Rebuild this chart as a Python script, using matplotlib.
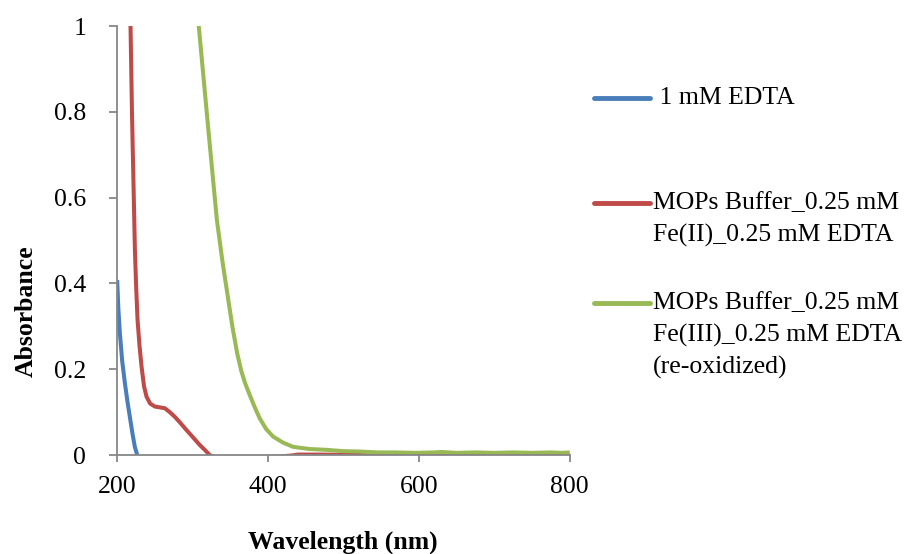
"""
Espectros UV-Vis: EDTA libre y complejos Fe-EDTA en tampón MOPS.
"""
import matplotlib
matplotlib.use("Agg")
import matplotlib.pyplot as plt
from matplotlib.lines import Line2D

plt.rcParams["font.family"] = ["Liberation Serif", "DejaVu Serif"]

# 1 mM EDTA
edta_nm = [200.4, 202, 204, 207, 210.6, 214, 217.2, 220.5, 223.8, 227, 230]
edta_abs = [0.408, 0.34, 0.284, 0.22, 0.168, 0.125, 0.089, 0.052, 0.019, 0.0, -0.012]

# MOPS + Fe(II) + EDTA
fe2_nm = [217.5, 218.1, 220, 222.5, 223.9, 225.6, 227.4, 230, 232.7, 236,
          239.3, 244, 250.3, 257, 263.6, 270, 276.8, 284, 292.3, 301, 310, 317,
          323, 330, 360, 400, 432, 440, 470, 520, 580, 640, 700, 760, 800]
fe2_abs = [1.05, 1.0, 0.8, 0.594, 0.478, 0.39, 0.315, 0.255, 0.206, 0.16,
           0.136, 0.12, 0.113, 0.111, 0.109, 0.1, 0.089, 0.075, 0.058, 0.041, 0.023, 0.011,
           0.0, -0.006, -0.01, -0.006, -0.001, 0.001, 0.001, 0.0, 0.001, 0.0, 0.001, 0.0, 0.001]

# MOPS + Fe(III) + EDTA (reoxidado)
fe3_nm = [307.5, 308.5, 314.5, 320.5, 326.5, 332.5, 340, 347.7, 353, 359.3, 365, 370,
          376, 383, 389.4, 398, 407, 420, 433.5, 455, 477.7, 500, 522, 545, 570, 595,
          620, 630, 650, 675, 700, 725, 750, 775, 790, 800]
fe3_abs = [1.02, 1.0, 0.886, 0.772, 0.66, 0.548, 0.45, 0.361, 0.30, 0.238, 0.195, 0.167,
           0.14, 0.11, 0.085, 0.06, 0.043, 0.029, 0.019, 0.014, 0.012, 0.009, 0.008, 0.006,
           0.006, 0.005, 0.006, 0.007, 0.005, 0.006, 0.005, 0.006, 0.005, 0.006, 0.005, 0.006]

SERIES = [
    (edta_nm, edta_abs, "#4A7EBB", [" 1 mM EDTA"]),
    (fe2_nm, fe2_abs, "#BE4B48", ["MOPs Buffer_0.25 mM", "Fe(II)_0.25 mM EDTA"]),
    (fe3_nm, fe3_abs, "#98B954", ["MOPs Buffer_0.25 mM", "Fe(III)_0.25 mM EDTA",
                                 "(re-oxidized)"]),
]
AXIS_GRAY = "#878787"
FS = 18.5

fig = plt.figure(figsize=(9.13, 5.54), dpi=100)
ax = fig.add_axes([0.128, 0.1787, 0.496, 0.7743])

for x, y, color, _ in SERIES:
    ax.plot(x, y, color=color, linewidth=2.9, solid_joinstyle="round",
            solid_capstyle="butt")

ax.set_xlim(200, 800)
ax.set_ylim(0, 1)
ax.set_xticks([200, 400, 600, 800])
ax.set_yticks([0, 0.2, 0.4, 0.6, 0.8, 1.0])
ax.set_yticklabels(["0", "0.2", "0.4", "0.6", "0.8", "1"])
for side in ("top", "right"):
    ax.spines[side].set_visible(False)
for side in ("left", "bottom"):
    ax.spines[side].set_color(AXIS_GRAY)
    ax.spines[side].set_linewidth(1.3)
ax.tick_params(axis="both", direction="out", color=AXIS_GRAY, width=1.3,
               labelsize=FS)
ax.tick_params(axis="x", length=5, pad=10)
ax.tick_params(axis="y", length=6, pad=16)

fig.text(0.029, 0.438, "Absorbance", rotation=90, fontsize=FS,
         fontweight="bold", ha="center", va="center")
fig.text(0.376, 0.022, "Wavelength (nm)", fontsize=FS, fontweight="bold",
         ha="center", va="center")

# leyenda a la derecha, manual (mango alineado con la primera línea del texto)
entry_top = [98, 203, 303]
line_step = 32
for (_, _, color, lines), y0 in zip(SERIES, entry_top):
    yf = 1 - y0 / 554
    fig.add_artist(Line2D([594 / 913, 650 / 913], [yf, yf], color=color,
                          linewidth=3.5, solid_capstyle="round",
                          transform=fig.transFigure))
    for i, txt in enumerate(lines):
        fig.text(653 / 913, 1 - (y0 + i * line_step) / 554, txt, fontsize=FS,
                 ha="left", va="center")

fig.savefig("out.png", dpi=100)
